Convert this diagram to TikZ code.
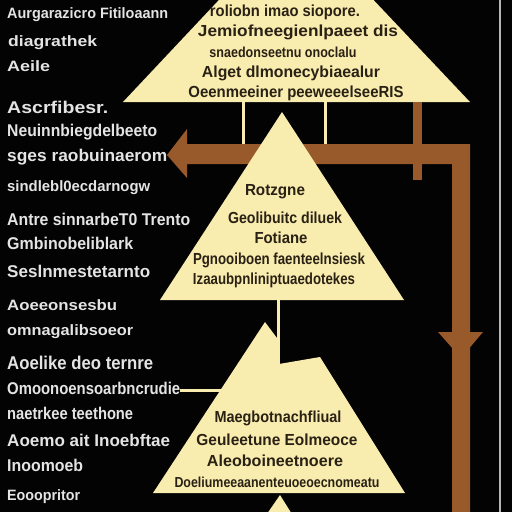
\documentclass[tikz,border=0pt]{standalone}
\usepackage{fontspec}
\usepackage{graphicx}
\newfontfamily\labfont{Liberation Sans Bold}
\definecolor{bgc}{HTML}{030303}
\definecolor{tric}{HTML}{F8ECAE}
\definecolor{brownc}{HTML}{98592B}
\definecolor{ltxt}{HTML}{E4E4E4}
\definecolor{dtxt}{HTML}{2A2115}
\newcommand\fw[2]{\resizebox{#1pt}{\height}{#2}}
\tikzset{
  lt/.style={anchor=west, inner sep=0pt, text=ltxt, font=\labfont\fontsize{17}{17}\selectfont},
  lts/.style={lt, font=\labfont\fontsize{15}{15}\selectfont},
  ltb/.style={lt, font=\labfont\fontsize{18.5}{18.5}\selectfont},
  tt/.style={anchor=center, inner sep=0pt, text=dtxt, font=\labfont\fontsize{16}{16}\selectfont},
  tts/.style={tt, font=\labfont\fontsize{14.5}{14.5}\selectfont},
  trishape/.style={fill=tric, draw=none},
  thinline/.style={draw=tric, line width=3pt},
  brownbar/.style={fill=brownc, draw=none},
}
\begin{document}
\begin{tikzpicture}[x=1pt,y=-1pt]
\useasboundingbox (0,0) rectangle (512,512);
\fill[bgc] (0,0) rectangle (512,512);
\clip (0,0) rectangle (512,512);

% right border line
\coordinate (rb1) at (500,0);
\coordinate (rb2) at (500,512);
\draw[ltxt!80!black, line width=1.5pt] (rb1) -- (rb2);

% top triangle (cut at top)
\coordinate (tA) at (296,-82);
\coordinate (tL) at (123,102);
\coordinate (tR) at (470,102);
\fill[trishape] (tA) -- (tL) -- (tR) -- cycle;

% thin lines from top triangle
\coordinate (v1a) at (243,100);
\coordinate (v1b) at (243,146);
\coordinate (v2a) at (325,100);
\coordinate (v2b) at (325,146);
\draw[thinline] (v1a) -- (v1b);
\draw[thinline] (v2a) -- (v2b);

% brown arrow: horizontal to the left, vertical down on right
\fill[brownbar] (167,155) -- (187,129) -- (187,144) -- (470,144) -- (470,512)
  -- (452,512) -- (452,164) -- (187,164) -- (187,178) -- cycle;
% downward arrowhead on right bar
\fill[brownbar] (438,332) -- (483,332) -- (461,358) -- cycle;
% short brown vertical bar
\fill[brownbar] (413,102) rectangle (422,180);

% middle triangle
\coordinate (mA) at (282,112);
\coordinate (mL) at (160,300);
\coordinate (mR) at (404,300);
\fill[trishape] (mA) -- (mL) -- (mR) -- cycle;

% line from middle triangle down
\coordinate (v3a) at (278,298);
\coordinate (v3b) at (278,364);
\draw[thinline] (v3a) -- (v3b);

% bottom triangle
\coordinate (bA) at (265,322);
\coordinate (bL) at (153,493);
\coordinate (bR) at (405,493);
\fill[trishape] (bA) -- (277,338) -- (279,364) -- (320,357) -- (bR) -- (bL) -- cycle;

% horizontal line to bottom triangle
\coordinate (h1a) at (180,390);
\coordinate (h1b) at (222,390);
\draw[thinline] (h1a) -- (h1b);

% small triangle at bottom
\coordinate (sA) at (280,495);
\fill[trishape] (sA) -- (300,527) -- (258,527) -- cycle;

% top triangle text
\node[tt] (t1) at (285,12) {\fw{150}{roliobn imao siopore.}};
\node[tt] (t2) at (298,32) {\fw{200}{Jemiofneegienlpaeet dis}};
\node[tts] (t3) at (283,52) {\fw{147}{snaedonseetnu onoclalu}};
\node[tt] (t4) at (291,73) {\fw{178}{Alget  dlmonecybiaealur}};
\node[tt] (t5) at (296,93) {\fw{215}{Oeenmeeiner peeweeelseeRIS}};

% middle triangle text
\node[tt] (m1) at (275,192) {\fw{60}{Rotzgne}};
\node[tt] (m2) at (285,218) {\fw{114}{Geolibuitc diluek}};
\node[tt] (m3) at (281,238) {\fw{53}{Fotiane}};
\node[tt] (m4) at (279,260) {\fw{172}{Pgnooiboen faenteelnsiesk}};
\node[tt] (m5) at (274,280) {\fw{162}{Izaaubpnliniptuaedotekes}};

% bottom triangle text
\node[tt] (b1) at (278,418) {\fw{127}{Maegbotnachfliual}};
\node[tt] (b2) at (277,440) {\fw{161}{Geuleetune Eolmeoce}};
\node[tt] (b3) at (275,461) {\fw{136}{Aleoboineetnoere}};
\node[tts] (b4) at (277,482) {\fw{205}{Doeliumeeaanenteuoeoecnomeatu}};

% left column text
\node[lts] (l1) at (7,15) {\fw{161}{Aurgarazicro Fitiloaann}};
\node[lts] (l2) at (8,43) {\fw{89}{diagrathek}};
\node[lts] (l3) at (7,66) {\fw{43}{Aeile}};
\node[lt] (l4) at (7,107) {\fw{101}{Ascrfibesr.}};
\node[lt] (l5) at (7,132) {\fw{150}{Neuinnbiegdelbeeto}};
\node[lt] (l6) at (7,157) {\fw{160}{sges raobuinaerom}};
\node[lts] (l7) at (7,188) {\fw{143}{sindlebl0ecdarnogw}};
\node[lt] (l8) at (7,219) {\fw{183}{Antre sinnarbeT0 Trento}};
\node[lt] (l9) at (7,243) {\fw{126}{Gmbinobeliblark}};
\node[lt] (l10) at (7,271) {\fw{143}{Seslnmestetarnto}};
\node[lts] (l11) at (7,305) {\fw{110}{Aoeeonsesbu}};
\node[lts] (l12) at (7,332) {\fw{126}{omnagalibsoeor}};
\node[ltb] (l13) at (7,363) {\fw{146}{Aoelike deo ternre}};
\node[lt] (l14) at (7,388) {\fw{173}{Omoonoensoarbncrudie}};
\node[lt] (l15) at (7,413) {\fw{126}{naetrkee teethone}};
\node[lt] (l16) at (7,440) {\fw{163}{Aoemo ait Inoebftae}};
\node[lt] (l17) at (7,465) {\fw{76}{Inoomoeb}};
\node[lts] (l18) at (7,497) {\fw{73}{Eooopritor}};
\end{tikzpicture}
\end{document}
